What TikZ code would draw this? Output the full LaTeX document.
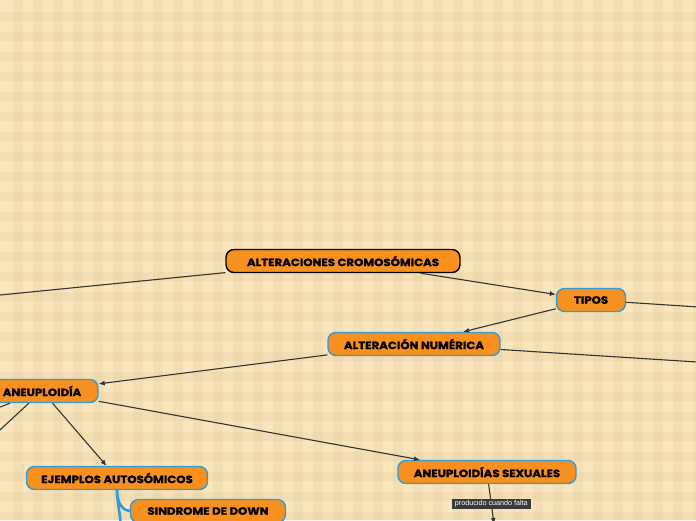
\documentclass[tikz,border=0pt]{standalone}
\usepackage{fontspec}
\setmainfont{Poppins}
\newfontfamily\mapfont{Poppins}[BoldFeatures={FakeStretch=1.12,FakeBold=1.4}]
\newfontfamily\tagfont{Liberation Sans}
\usetikzlibrary{arrows.meta,calc,positioning}
\definecolor{mapbg}{HTML}{F9E6BC}
\definecolor{mapband}{HTML}{DCC38E}
\definecolor{maporange}{HTML}{F7901E}
\definecolor{mapblue}{HTML}{2D9CDB}
\definecolor{maplink}{HTML}{333333}
\definecolor{tagfill}{HTML}{3A3A3A}
\tikzset{
  topic/.style={draw=mapblue, fill=maporange, line width=1.4pt, rounded corners=8pt,
    minimum height=23pt, inner sep=0pt, font=\mapfont\bfseries\fontsize{10.5}{12}\selectfont},
  maintopic/.style={topic, draw=black},
  link/.style={maplink, line width=1.1pt},
  arrowlink/.style={link, -{Latex[length=6pt,width=5pt]}},
  branch/.style={mapblue, line width=2.6pt, line cap=round},
  tagnode/.style={fill=tagfill, text=white, inner xsep=3pt, inner ysep=2pt,
    font=\tagfont\fontsize{7.2}{8}\selectfont}
}
\begin{document}
\begin{tikzpicture}[x=1pt, y=-1pt]
  \useasboundingbox (0,0) rectangle (696,520);
  \clip (0,0) rectangle (696,520);
  % gingham background
  \fill[mapbg] (0,0) rectangle (696,520);
  \foreach \i in {0,...,34} {
    \fill[mapband, opacity=0.18] ({13+20*\i},0) rectangle ({23+20*\i},520);
  }
  \foreach \j in {0,...,26} {
    \fill[mapband, opacity=0.18] (0,{12+20*\j}) rectangle (696,{21+20*\j});
  }

  \node[maintopic, minimum width=234pt] (alteraciones) at (343,261) {ALTERACIONES CROMOSÓMICAS};
  \node[topic, minimum width=69pt] (tipos) at (591,300) {TIPOS};
  \node[topic, minimum width=172pt] (numerica) at (414,344) {ALTERACIÓN NUMÉRICA};
  \node[topic, minimum width=112pt] (aneuploidia) at (42,391) {ANEUPLOIDÍA};
  \node[topic, minimum width=181pt] (autosomicos) at (117,478) {EJEMPLOS AUTOSÓMICOS};
  \node[topic, minimum width=155pt] (down) at (208,511) {SINDROME DE DOWN};
  \node[topic, minimum width=178pt] (sexuales) at (487,472) {ANEUPLOIDÍAS SEXUALES};

  % ends that leave the picture
  \coordinate (outleft) at (-60,301);
  \coordinate (outtipos) at (760,311);
  \coordinate (outnumerica) at (760,366);
  \coordinate (outaneuA) at (-60,430);
  \coordinate (outaneuB) at (-40,467);
  \coordinate (outautosomicos) at (121,530);
  \coordinate (outsexuales) at (494,524);

  \draw[link] (alteraciones) -- (outleft);
  \draw[arrowlink] (alteraciones) -- (tipos);
  \draw[link] (tipos) -- (outtipos);
  \draw[arrowlink] (tipos) -- (numerica);
  \draw[link] (numerica) -- (outnumerica);
  \draw[arrowlink] (numerica) -- (aneuploidia);
  \draw[link] (aneuploidia) -- (outaneuA);
  \draw[link] (aneuploidia) -- (outaneuB);
  \draw[arrowlink] (aneuploidia) -- (autosomicos);
  \draw[arrowlink] (aneuploidia) -- (sexuales);
  \draw[arrowlink] (sexuales) -- node[tagnode, pos=0.5] {producido cuando falta} (outsexuales);

  \draw[branch] (autosomicos.south) .. controls +(0,14) and +(-6,0) .. (down.west);
  \draw[branch] (autosomicos.south) .. controls +(0,12) and +(0,-12) .. (outautosomicos);
\end{tikzpicture}
\end{document}
